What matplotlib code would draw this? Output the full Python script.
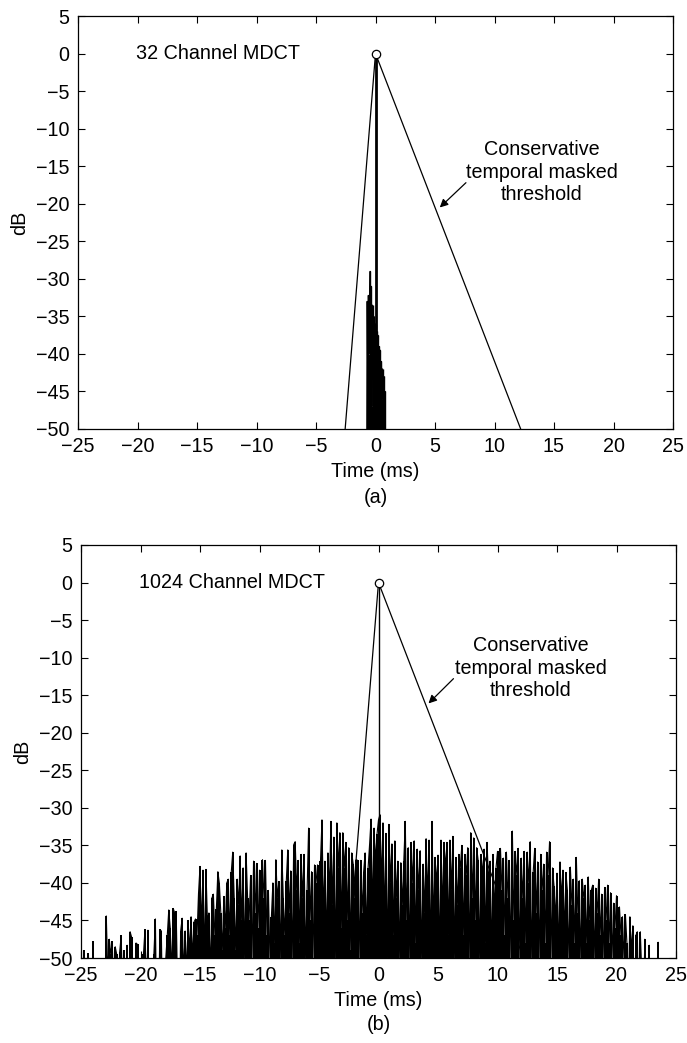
import numpy as np
import matplotlib
matplotlib.use("Agg")
import matplotlib.pyplot as plt

plt.rcParams['font.family'] = ['Liberation Sans', 'DejaVu Sans']

# ---------------- data ----------------
# conservative temporal masked threshold (ms, dB)
thr_t = [-2.55, 0.0, 12.2]
thr_db = [-50.0, 0.0, -50.0]

# impulse (ms, dB)
imp_t = [0.0]
imp_db = [0.0]

# 32-channel MDCT pre/post echo noise (ms, dB), step 0.05 ms from -0.75
n32_t0, n32_dt = -0.75, 0.05
n32_db = [-60, -33, -45, -32.2, -40, -34, -29, -43, -31, -47,
          -33.5, -38, -35, -44, -37, -36, -45, -37, -42, -37.5,
          -48, -39, -44, -39.5, -50, -41, -46, -42, -55, -43,
          -48, -45, -60, -60]

# 1024-channel MDCT noise (ms, dB), step 0.125 ms from -25 ms
n1024_t0, n1024_dt = -25.0, 0.125
n1024_db = [
    -60, -60, -49, -60, -60, -49.4, -60, -60,            # -25
    -47.8, -60, -60, -60, -60, -60, -60, -60,            # -24
    -60, -44.4, -52, -47.5, -49.5, -47.8, -55, -48.5,    # -23
    -49.5, -55, -49.2, -47, -55, -49, -60, -48.3,        # -22
    -60, -46.5, -47.2, -55, -60, -48, -48.2, -60,        # -21
    -60, -60, -49.5, -46.2, -55, -46.3, -60, -60,        # -20
    -60, -49.5, -44.8, -60, -60, -46.2, -46.4, -60,      # -19
    -60, -50, -47, -43.6, -46, -52, -43.4, -44,          # -18
    -43.8, -55, -60, -46.4, -44.7, -52, -46.4, -52,      # -17
    -45, -49, -44.5, -50, -45.2, -44.8, -47, -41.4,      # -16
    -37.8, -46, -38.3, -50, -38.2, -45, -44, -52,        # -15
    -42, -41.5, -47, -43.5, -38.5, -40, -44, -49,        # -14
    -41.8, -46, -40, -39.5, -47, -38.6, -35.9, -42,      # -13
    -49, -39.5, -43, -36.4, -45, -38, -50, -36,          # -12
    -42, -45, -39, -50, -37.1, -44, -37.4, -46,          # -11
    -38.3, -50, -36.9, -42, -37, -47, -41, -50,          # -10
    -44.5, -40, -48, -36.9, -42, -39.8, -50, -35.6,      # -9
    -42, -47, -39.8, -35.6, -44, -38.4, -50, -34.9,      # -8
    -34.5, -41, -37, -48, -36.2, -42, -36.2, -50,        # -7
    -41, -32.7, -45, -38.5, -50, -37.6, -40, -37.6,      # -6
    -45, -37.1, -31.6, -44, -37.1, -48, -36, -41,        # -5
    -31.8, -43, -33.9, -50, -32, -38, -33.3, -46,        # -4
    -33.3, -38, -34.6, -45, -35.3, -49, -36, -37.5,      # -3
    -42, -36.9, -37, -50, -37, -44, -38.5, -36,          # -2
    -47, -38, -34.9, -31.5, -44, -32.7, -37.1, -33.5,    # -1
    -31.6, -30.9, -40, -32, -45, -33.4, -50, -32.2,      # 0
    -40, -34.8, -47, -34.4, -42, -37.1, -50, -37.3,      # 1
    -43, -37.1, -31.8, -45, -35.3, -50, -34.6, -40,      # 2
    -34.4, -48, -35.5, -41, -35.7, -50, -37.5, -44,      # 3
    -34.1, -42, -34.3, -50, -31.8, -46, -36.6, -40,      # 4
    -36.3, -50, -34.3, -44, -34.6, -38, -34.6, -47,      # 5
    -34.3, -41, -33.8, -50, -36.6, -43, -36.2, -38,      # 6
    -35, -47, -36.2, -39, -35.3, -50, -33.3, -42,        # 7
    -34, -45, -35.3, -37, -50, -36.2, -39, -35.5,        # 8
    -48, -34.6, -40, -37.1, -50, -36.2, -44, -38,        # 9
    -35.8, -50, -35.4, -41, -36.7, -47, -35.9, -42,      # 10
    -37, -50, -33.1, -45, -35.8, -39, -35.4, -50,        # 11
    -36.7, -42, -35.8, -48, -35.9, -40, -34.5, -50,      # 12
    -38.5, -35.4, -44, -37.2, -50, -36.2, -41, -37.5,    # 13
    -48, -35.9, -39, -34.5, -50, -38, -40.4, -45,        # 14
    -38.7, -50, -37.2, -42, -38.3, -47, -38.6, -41,      # 15
    -50, -37.9, -43, -39.5, -48, -36.6, -44, -39.7,      # 16
    -50, -39.5, -42, -40.3, -48, -39.2, -45, -41,        # 17
    -40.3, -50, -40.7, -44, -39.5, -47, -41.5, -50,      # 18
    -40.6, -45, -40.3, -48, -41.3, -50, -42.7, -46,      # 19
    -41.7, -50, -43.2, -47, -44.5, -50, -44.2, -48,      # 20
    -55, -44.5, -49, -45.7, -60, -47, -46.5, -60,        # 21
    -46.5, -52, -60, -47.5, -60, -60, -48.3, -60,        # 22
    -60, -60, -60, -60, -47.9, -60, -60, -60,            # 23
]

panel_titles = ["32 Channel MDCT", "1024 Channel MDCT"]
panel_tags = ["(a)", "(b)"]
annot_text = "Conservative\ntemporal masked\nthreshold"
xticks = list(range(-25, 30, 5))
yticks = list(range(-50, 10, 5))

n32_t = n32_t0 + n32_dt * np.arange(len(n32_db))
n1024_t = n1024_t0 + n1024_dt * np.arange(len(n1024_db))

# ---------------- figure ----------------
W, H = 687, 1043
fig = plt.figure(figsize=(W / 100, H / 100), dpi=100)
ax1 = fig.add_axes([78 / W, 1 - 429 / H, (673 - 78) / W, (429 - 16) / H])
ax2 = fig.add_axes([81 / W, 1 - 958 / H, (676 - 81) / W, (958 - 545) / H])

FS = 14.2

def style(ax):
    ax.set_xlim(-25, 25)
    ax.set_ylim(-50, 5)
    ax.set_xticks(xticks)
    ax.set_yticks(yticks)
    ax.tick_params(direction='in', length=5, width=0.8, top=True, right=True,
                   labelsize=FS, pad=6)
    for s in ax.spines.values():
        s.set_linewidth(0.9)
    ax.set_xlabel("Time (ms)", fontsize=FS, labelpad=4)
    ax.set_ylabel("dB", fontsize=FS, labelpad=5)

def noise(ax, t, db, lw):
    ax.vlines(t, -50, db, color='k', lw=lw)
    ax.plot(t, db, color='k', lw=0.8)

# top panel
ax1.plot(thr_t, thr_db, color='k', lw=0.9)
noise(ax1, n32_t, n32_db, 1.0)
ax1.vlines(imp_t, -50, imp_db, color='k', lw=2.0)
ax1.plot(imp_t, imp_db, 'o', mfc='white', mec='k', ms=6, mew=0.9)
ax1.text(-20.1, 0, panel_titles[0], fontsize=FS, ha='left', va='center')
ax1.text(14, -15.8, annot_text, fontsize=FS, ha='center', va='center',
         linespacing=1.25)
ax1.annotate("", xy=(5.4, -20.5), xytext=(7.6, -17.2),
             arrowprops=dict(arrowstyle='-|>', color='k', lw=0.9,
                             mutation_scale=12, shrinkA=0, shrinkB=0))
style(ax1)
ax1.text(0.5, -0.165, panel_tags[0], transform=ax1.transAxes, fontsize=FS,
         ha='center', va='center')

# bottom panel
ax2.plot(thr_t, thr_db, color='k', lw=0.9)
noise(ax2, n1024_t, n1024_db, 1.45)
ax2.vlines(imp_t, -50, imp_db, color='k', lw=1.0)
ax2.plot(imp_t, imp_db, 'o', mfc='white', mec='k', ms=6, mew=0.9)
ax2.text(-20.1, 0, panel_titles[1], fontsize=FS, ha='left', va='center')
ax2.text(12.8, -11.4, annot_text, fontsize=FS, ha='center', va='center',
         linespacing=1.25)
ax2.annotate("", xy=(4.2, -16.1), xytext=(6.3, -12.8),
             arrowprops=dict(arrowstyle='-|>', color='k', lw=0.9,
                             mutation_scale=12, shrinkA=0, shrinkB=0))
style(ax2)
ax2.text(0.5, -0.16, panel_tags[1], transform=ax2.transAxes, fontsize=FS,
         ha='center', va='center')

fig.savefig("out.png", dpi=100)
